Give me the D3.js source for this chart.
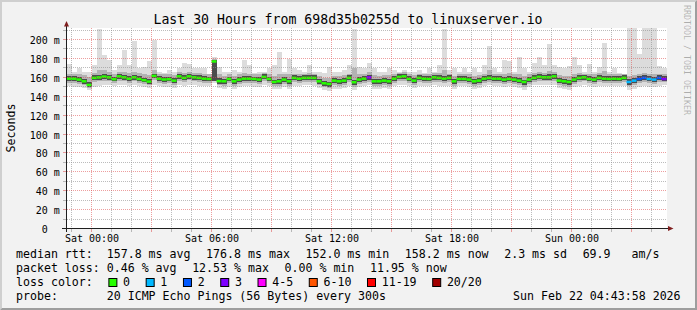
<!DOCTYPE html>
<html>
<head>
<meta charset="utf-8">
<script src="https://cdn.jsdelivr.net/npm/d3@7.9.0/dist/d3.min.js"></script>
<style>
  html, body { margin: 0; padding: 0; background: #f2f2f2; }
  svg { display: block; font-family: "DejaVu Sans Mono", monospace; }
  text { white-space: pre; }
</style>
</head>
<body>
<svg id="chart" width="697" height="310"></svg>
<script>
// -----------------------------
// Data (15 minute steps, Fri 22:45 -> Sun 04:45), values in ms
// -----------------------------
const medianRtt = [
  158.6, 158.6, 157.6, 155.8, 152.0, 159.4, 159.9, 160.8, 160.0, 158.0, 161.0, 160.0,
  158.6, 160.0, 158.3, 157.0, 155.5, 161.5, 158.6, 157.7, 158.0, 156.5, 161.0, 159.4,
  161.0, 160.0, 159.4, 158.6, 158.3, 176.8, 156.0, 155.8, 158.3, 155.8, 157.6, 158.6,
  158.6, 158.3, 157.6, 160.4, 158.3, 155.1, 155.8, 157.6, 155.8, 159.4, 158.6, 159.4,
  159.4, 159.4, 155.8, 153.7, 153.0, 156.5, 155.8, 156.5, 159.4, 154.8, 157.6, 158.6,
  160.0, 155.8, 155.8, 156.5, 155.8, 158.6, 160.4, 161.0, 158.3, 156.5, 159.4, 158.6,
  158.3, 160.0, 159.4, 158.6, 159.4, 155.8, 158.3, 158.3, 157.6, 155.8, 156.5, 158.6,
  159.4, 158.6, 158.6, 157.6, 158.3, 157.6, 156.5, 155.1, 157.6, 159.4, 160.4, 160.0,
  160.0, 161.0, 156.5, 155.8, 155.1, 157.6, 159.4, 160.0, 158.3, 157.6, 159.4, 158.6,
  158.3, 158.6, 158.3, 159.4, 155.1, 156.5, 158.3, 159.4, 158.3, 157.6, 159.4, 158.2
];

// lost pings out of 20 for each step
const lossCount = [
  0, 0, 0, 0, 0, 0, 0, 0, 0, 0, 0, 0, 0, 0, 0, 0, 0, 0, 0, 0, 0, 0, 0, 0,
  0, 0, 0, 0, 0, 0, 0, 0, 0, 0, 0, 0, 0, 0, 0, 0, 0, 0, 0, 0, 0, 0, 0, 0,
  0, 0, 0, 0, 0, 0, 0, 0, 0, 0, 0, 0, 3, 0, 0, 0, 0, 0, 0, 0, 0, 0, 0, 0,
  0, 0, 0, 0, 0, 0, 0, 0, 0, 0, 0, 0, 0, 0, 0, 0, 0, 0, 0, 0, 0, 0, 0, 0,
  0, 0, 0, 0, 0, 0, 0, 0, 0, 0, 0, 0, 0, 0, 0, 0, 1, 1, 2, 2, 1, 1, 2, 3
];

// smoke: fastest / slowest ping of each step
const minRtt = [
  151, 150, 150, 149, 147, 150, 151, 152, 152, 151, 152, 152, 151, 152, 151, 150, 149, 152, 151, 150, 150, 149, 152, 151,
  152, 152, 151, 151, 151, 154, 149, 148, 150, 148, 150, 151, 151, 150, 150, 152, 151, 148, 148, 150, 148, 151, 151, 152,
  152, 151, 149, 147, 146, 148, 148, 149, 151, 147, 150, 151, 152, 148, 148, 149, 148, 151, 152, 152, 151, 149, 151, 151,
  151, 152, 151, 151, 151, 148, 151, 151, 150, 148, 149, 151, 152, 151, 151, 150, 151, 150, 149, 147, 150, 152, 152, 152,
  152, 152, 149, 148, 147, 150, 151, 152, 151, 150, 151, 151, 151, 151, 151, 151, 147, 148, 150, 151, 150, 150, 151, 152
];
const maxRtt = [
  174, 166, 170, 166, 166, 173, 211, 184, 178, 168, 173, 189, 173, 198, 170, 171, 177, 200, 166, 165, 168, 166, 170, 175,
  174, 170, 170, 170, 163, 181, 171, 166, 166, 168, 166, 178, 173, 165, 166, 166, 170, 173, 187, 166, 179, 170, 168, 166,
  173, 166, 166, 165, 171, 166, 166, 168, 173, 211, 171, 170, 175, 170, 166, 166, 170, 168, 166, 168, 166, 166, 168, 165,
  170, 166, 173, 211, 168, 170, 166, 170, 166, 170, 166, 173, 193, 170, 166, 178, 177, 166, 182, 170, 166, 175, 182, 173,
  195, 173, 171, 170, 172, 182, 173, 166, 174, 166, 171, 196, 166, 170, 165, 163, 250, 250, 185, 250, 250, 250, 172, 170
];

// smoke: middle ranks
const midLow = [
  154, 154, 153, 152, 149, 155, 156, 156, 156, 154, 156, 156, 154, 156, 154, 153, 152, 157, 154, 153, 154, 152, 156, 155,
  157, 156, 155, 154, 154, 156, 152, 151, 154, 151, 153, 154, 154, 154, 153, 156, 154, 151, 151, 153, 151, 155, 154, 155,
  155, 155, 152, 150, 149, 152, 151, 152, 155, 150, 153, 154, 155, 151, 151, 152, 151, 154, 156, 156, 154, 152, 155, 154,
  154, 155, 155, 154, 155, 151, 154, 154, 153, 151, 152, 154, 155, 154, 154, 153, 154, 153, 152, 150, 153, 155, 156, 156,
  156, 156, 152, 151, 150, 153, 155, 156, 154, 153, 155, 154, 154, 154, 154, 155, 151, 152, 154, 155, 154, 153, 155, 155
];
const midHigh = [
  164, 163, 163, 162, 160, 165, 168, 168, 166, 164, 166, 166, 165, 166, 165, 163, 162, 168, 164, 163, 164, 162, 166, 165,
  166, 165, 165, 164, 163, 179, 163, 161, 163, 161, 163, 165, 164, 163, 163, 165, 164, 161, 163, 163, 163, 164, 164, 164,
  165, 164, 161, 159, 159, 161, 161, 162, 164, 170, 163, 164, 166, 162, 161, 162, 162, 164, 165, 166, 164, 162, 164, 163,
  164, 165, 165, 168, 164, 161, 163, 164, 163, 161, 162, 164, 168, 164, 163, 164, 165, 163, 164, 161, 163, 165, 166, 165,
  167, 166, 162, 161, 161, 164, 165, 164, 164, 163, 165, 167, 163, 164, 163, 163, 161, 162, 164, 165, 164, 163, 164, 164
];

// smoke: ranks next to the median
const coreLow = [
  156, 156, 155, 153, 150, 157, 157, 158, 157, 156, 158, 157, 156, 157, 156, 155, 153, 159, 156, 155, 156, 154, 158, 157,
  158, 157, 157, 156, 156, 156, 153, 153, 156, 153, 155, 156, 156, 156, 155, 158, 156, 153, 153, 155, 153, 157, 156, 157,
  157, 157, 153, 151, 150, 154, 153, 154, 157, 152, 155, 156, 157, 153, 153, 154, 153, 156, 158, 158, 156, 154, 157, 156,
  156, 157, 157, 156, 157, 153, 156, 156, 155, 153, 154, 156, 157, 156, 156, 155, 156, 155, 154, 152, 155, 157, 158, 157,
  157, 158, 154, 153, 152, 155, 157, 157, 156, 155, 157, 156, 156, 156, 156, 157, 152, 154, 156, 157, 156, 155, 157, 156
];
const coreHigh = [
  161, 161, 160, 158, 155, 162, 162, 163, 162, 160, 163, 162, 161, 162, 161, 159, 158, 164, 161, 160, 160, 159, 163, 162,
  163, 162, 162, 161, 160, 178, 159, 158, 160, 158, 160, 161, 161, 160, 160, 163, 160, 157, 158, 160, 158, 162, 161, 162,
  162, 162, 158, 156, 155, 159, 158, 159, 162, 157, 160, 161, 162, 158, 158, 159, 158, 161, 163, 163, 161, 159, 162, 161,
  161, 162, 162, 161, 162, 158, 161, 161, 160, 158, 159, 161, 162, 161, 161, 160, 161, 160, 159, 157, 160, 162, 163, 162,
  163, 163, 159, 158, 157, 160, 162, 162, 161, 160, 162, 161, 161, 161, 161, 162, 158, 159, 161, 162, 161, 160, 162, 161
];

// loss legend buckets: upper bound of lost pings, label, colour
const lossBuckets = [0, 1, 2, 3, 5, 10, 19, 20];
const lossLabels = ['0', '1', '2', '3', '4-5', '6-10', '11-19', '20/20'];
const lossColors = ['#26ff00', '#00b8ff', '#0059ff', '#7e00ff', '#ff00ff', '#ff5500', '#ff0000', '#a10000'];

const yTickValues = [0, 20, 40, 60, 80, 100, 120, 140, 160, 180, 200];

const legendLine1 = ['median rtt:  157.8 ms avg', '176.8 ms max', '152.0 ms min', '158.2 ms now', '2.3 ms sd', '69.9   am/s'];
const legendLine2 = ['packet loss: 0.46 % avg', '12.53 % max', '0.00 % min', '11.95 % now'];
const probeText = 'probe:       20 ICMP Echo Pings (56 Bytes) every 300s';
const stampText = 'Sun Feb 22 04:43:58 2026';
const titleText = 'Last 30 Hours from 698d35b0255d to linuxserver.io';

// -----------------------------
// Setup
// -----------------------------
const W = 697, H = 310;
const start = new Date(2026, 1, 20, 22, 45);
const end = d3.timeHour.offset(start, 30);
const stepMs = 15 * 60 * 1000;
const times = medianRtt.map((d, i) => new Date(+start + i * stepMs));

const x = d3.scaleTime().domain([start, end]).range([66.5, 666.5]);
const y = d3.scaleLinear().domain([0, 212.2]).range([228.5, 28]);

const svg = d3.select('#chart');

// background and rrdtool style 3d border
svg.append('rect').attr('width', W).attr('height', H).attr('fill', '#f2f2f2');
svg.append('path')
  .attr('d', `M0,${H}L2,${H - 2}L2,2L${W - 2},2L${W},0L0,0Z`)
  .attr('fill', '#cfcfcf');
svg.append('path')
  .attr('d', `M2,${H - 2}L${W - 2},${H - 2}L${W - 2},2L${W},0L${W},${H}L0,${H}Z`)
  .attr('fill', '#9e9e9e');

// canvas
svg.append('rect')
  .attr('x', 67).attr('y', 28).attr('width', 600).attr('height', 200.5)
  .attr('fill', '#ffffff');

svg.append('clipPath').attr('id', 'plotclip')
  .append('rect').attr('x', 67).attr('y', 28).attr('width', 600).attr('height', 200.5);

const plot = svg.append('g').attr('clip-path', 'url(#plotclip)');

// -----------------------------
// Smoke bands
// -----------------------------
const bands = [
  { lo: minRtt, hi: maxRtt, color: '#dcdcdc' },
  { lo: midLow, hi: midHigh, color: '#b2b2b2' },
  { lo: coreLow, hi: coreHigh, color: '#4c4c4c' }
];

bands.forEach(b => {
  plot.append('g')
    .selectAll('rect')
    .data(times)
    .join('rect')
    .attr('x', t => x(t))
    .attr('width', t => x(new Date(+t + stepMs)) - x(t))
    .attr('y', (t, i) => y(b.hi[i]))
    .attr('height', (t, i) => y(b.lo[i]) - y(b.hi[i]))
    .attr('fill', b.color)
    .attr('shape-rendering', 'crispEdges');
});

// median, coloured by packet loss
function lossColor(n) {
  const idx = lossBuckets.findIndex(b => n <= b);
  return lossColors[idx];
}

plot.append('g')
  .selectAll('rect')
  .data(times)
  .join('rect')
  .attr('x', t => x(t))
  .attr('width', t => x(new Date(+t + stepMs)) - x(t))
  .attr('y', (t, i) => y(medianRtt[i]) - 1.25)
  .attr('height', 2.5)
  .attr('fill', (t, i) => lossColor(lossCount[i]));

// -----------------------------
// Grid (drawn over the data, like rrdtool)
// -----------------------------
const minorColor = 'rgba(143,143,143,0.6)';
const majorColor = 'rgba(222,79,79,0.55)';
const grid = svg.append('g').attr('stroke-width', 1).attr('shape-rendering', 'crispEdges');

const yMinor = d3.range(10, 212, 10).filter(v => v % 20 !== 0);
const yMajor = yTickValues.filter(v => v > 0);
const xMinor = d3.timeHour.range(start, end).filter(t => t.getHours() % 3 !== 0);
const xMajor = d3.timeHour.every(3).range(start, end);

function hLines(vals, color) {
  grid.selectAll(null).data(vals).join('line')
    .attr('x1', 67).attr('x2', 667)
    .attr('y1', v => Math.round(y(v) - 0.5) + 0.5).attr('y2', v => Math.round(y(v) - 0.5) + 0.5)
    .attr('stroke', color).attr('stroke-dasharray', '1,1');
  grid.selectAll(null).data(vals).join('line')
    .attr('x1', 63).attr('x2', 66)
    .attr('y1', v => Math.round(y(v) - 0.5) + 0.5).attr('y2', v => Math.round(y(v) - 0.5) + 0.5)
    .attr('stroke', color);
}
function vLines(vals, color) {
  grid.selectAll(null).data(vals).join('line')
    .attr('x1', t => x(t)).attr('x2', t => x(t))
    .attr('y1', 28).attr('y2', 228)
    .attr('stroke', color).attr('stroke-dasharray', '1,1');
  grid.selectAll(null).data(vals).join('line')
    .attr('x1', t => x(t)).attr('x2', t => x(t))
    .attr('y1', 229).attr('y2', 232)
    .attr('stroke', color);
}
hLines(yMinor, minorColor);
vLines(xMinor, minorColor);
hLines(yMajor, majorColor);
vLines(xMajor, majorColor);

// -----------------------------
// Axes
// -----------------------------
const axisColor = '#1f1f1f';
const arrowColor = '#801f1f';
svg.append('line').attr('x1', 62).attr('x2', 670).attr('y1', 228.5).attr('y2', 228.5)
  .attr('stroke', axisColor);
svg.append('line').attr('x1', 66.5).attr('x2', 66.5).attr('y1', 232).attr('y2', 24)
  .attr('stroke', axisColor);
svg.append('path').attr('d', 'M668,226L673.5,228.5L668,231Z').attr('fill', arrowColor);
svg.append('path').attr('d', 'M64,26.5L66.5,21L69,26.5Z').attr('fill', arrowColor);

// y axis labels
const yAxis = d3.axisLeft(y)
  .tickValues(yTickValues)
  .tickFormat(v => v === 0 ? '0  ' : `${v} m`)
  .tickSize(0)
  .tickPadding(6.7);
const yg = svg.append('g').attr('transform', 'translate(66.5,0)').call(yAxis);
yg.select('.domain').remove();
yg.selectAll('text')
  .attr('font-family', '"DejaVu Sans Mono", monospace')
  .attr('font-size', 10)
  .attr('fill', '#000')
  .attr('dy', '0.4em');

// x axis labels
const xAxis = d3.axisBottom(x)
  .ticks(d3.timeHour.every(6))
  .tickFormat(d3.timeFormat('%a %H:%M'))
  .tickSize(0)
  .tickPadding(5.9);
const xg = svg.append('g').attr('transform', 'translate(0,228.5)').call(xAxis);
xg.select('.domain').remove();
xg.selectAll('text')
  .attr('font-family', '"DejaVu Sans Mono", monospace')
  .attr('font-size', 10)
  .attr('fill', '#000');

// -----------------------------
// Texts
// -----------------------------
svg.append('text')
  .attr('x', 348).attr('y', 24)
  .attr('text-anchor', 'middle')
  .attr('font-size', 13.2)
  .text(titleText);

svg.append('text')
  .attr('transform', 'translate(15,128) rotate(-90)')
  .attr('text-anchor', 'middle')
  .attr('font-size', 11.6)
  .text('Seconds');

svg.append('text')
  .attr('transform', 'translate(683.5,5) rotate(90)')
  .attr('font-size', 8.3)
  .attr('fill', '#000').attr('fill-opacity', 0.28)
  .text('RRDTOOL / TOBI OETIKER');

// -----------------------------
// Legend
// -----------------------------
const legendFont = 11.6;
const itemGap = 15.6;
const legend = svg.append('g').attr('font-size', legendFont).attr('fill', '#000');

function textRow(items, baseline) {
  let cx = 16;
  items.forEach(s => {
    const t = legend.append('text').attr('x', cx).attr('y', baseline).text(s);
    cx += t.node().getComputedTextLength() + itemGap;
  });
}
textRow(legendLine1, 258.3);
textRow(legendLine2, 272.3);

// loss colour row
let lx = 16;
const lc = legend.append('text').attr('x', lx).attr('y', 286.3).text('loss color:');
lx += lc.node().getComputedTextLength() + itemGap;
lossLabels.forEach((lab, i) => {
  legend.append('rect')
    .attr('x', lx + 0.5).attr('y', 278.5).attr('width', 8).attr('height', 8)
    .attr('fill', lossColors[i]).attr('stroke', '#000').attr('stroke-width', 1);
  const t = legend.append('text').attr('x', lx + 14.7).attr('y', 286.3).text(lab);
  lx += 14.7 + t.node().getComputedTextLength() + itemGap;
});

legend.append('text').attr('x', 16).attr('y', 300.3).text(probeText);
legend.append('text').attr('x', 680.6).attr('y', 300.3).attr('text-anchor', 'end').text(stampText);
</script>
</body>
</html>
